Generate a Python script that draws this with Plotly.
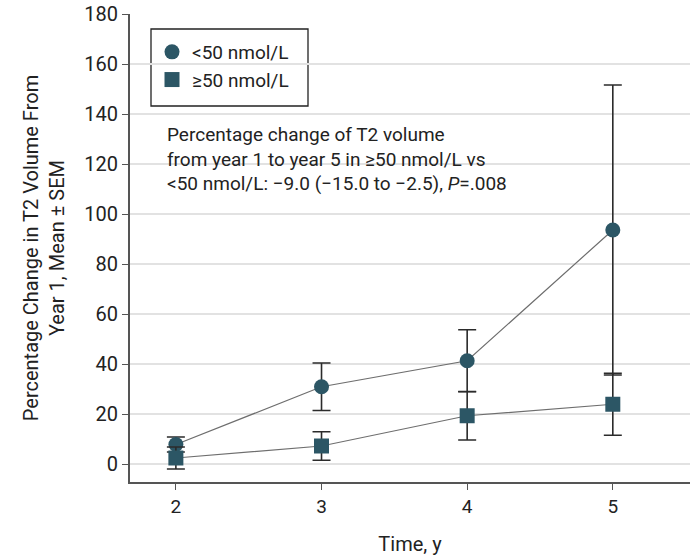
import plotly.graph_objects as go

years = [2, 3, 4, 5]
low_mean = [7.8, 30.9, 41.3, 93.6]
low_sem = [3.0, 9.5, 12.4, 58.0]
high_mean = [2.4, 7.2, 19.3, 23.9]
high_sem = [4.4, 5.7, 9.7, 12.4]
y_ticks = [0, 20, 40, 60, 80, 100, 120, 140, 160, 180]

FONT = "Roboto, sans-serif"
MARK = "#2c5665"
ERR = "#2b2b2b"

# plot area target in page pixels: x 130..690, y 14..482
def px(x, y):
    return (x - 130) / 560, (482 - y) / 468

fig = go.Figure()
for name, mean, sem, sym in [("<50 nmol/L", low_mean, low_sem, "circle"),
                             ("≥50 nmol/L", high_mean, high_sem, "square")]:
    fig.add_trace(go.Scatter(
        x=years, y=mean, name=name, mode="lines+markers", showlegend=False,
        line=dict(color="#6e6e6e", width=1.2),
        marker=dict(symbol=sym, size=15, color=MARK),
        error_y=dict(type="data", array=sem, visible=True, color=ERR,
                     thickness=1.6, width=9),
    ))
    fig.add_trace(go.Scatter(
        x=[None], y=[None], name=name, mode="markers", showlegend=True,
        marker=dict(symbol=sym, size=15, color=MARK),
    ))

x0, y0 = px(151, 106)
x1, y1 = px(308, 29)
fig.add_shape(type="rect", xref="paper", yref="paper", x0=x0, y0=y0, x1=x1, y1=y1,
              line=dict(color="#222", width=1.3), fillcolor="white", layer="between")

ax, ay = px(165, 121)
fig.add_annotation(
    xref="paper", yref="paper", x=ax, y=ay,
    xanchor="left", yanchor="top", align="left", showarrow=False,
    text="Percentage change of T2 volume<br>from year 1 to year 5 in ≥50 nmol/L vs<br>"
         "<50 nmol/L: −9.0 (−15.0 to −2.5), <i>P</i>=.008",
    font=dict(family=FONT, size=19, color="#222"),
)

lx, ly = px(152, 33)
fig.update_layout(
    width=690, height=558,
    margin=dict(l=130, r=0, t=14, b=76),
    paper_bgcolor="white", plot_bgcolor="white",
    font=dict(family=FONT, size=19, color="#222"),
    showlegend=True,
    legend=dict(x=lx, y=ly, xanchor="left", yanchor="top",
                borderwidth=0, bgcolor="rgba(0,0,0,0)",
                font=dict(family=FONT, size=19, color="#222"),
                itemsizing="trace", itemwidth=30),
    xaxis=dict(range=[1.685, 5.53], tickvals=years, showgrid=False, zeroline=False,
               showline=True, linecolor="#555", linewidth=2, automargin=False,
               ticks="outside", ticklen=6, tickcolor="#555",
               title=dict(text="Time, y", font=dict(size=20), standoff=20),
               tickfont=dict(size=19)),
    yaxis=dict(range=[-7.2, 180], tickvals=y_ticks, showgrid=True, gridcolor="#e2e2e2",
               gridwidth=1.5, zeroline=False, automargin=False,
               showline=True, linecolor="#555", linewidth=2,
               ticks="outside", ticklen=6, tickcolor="#555",
               ticklabeloverflow="allow",
               title=dict(text="Percentage Change in T2 Volume From<br>Year 1, Mean ± SEM",
                          font=dict(size=20), standoff=14),
               tickfont=dict(size=20)),
)

fig.write_html("out.html", config={"displayModeBar": False},
               post_script="document.body.style.margin='0';")
